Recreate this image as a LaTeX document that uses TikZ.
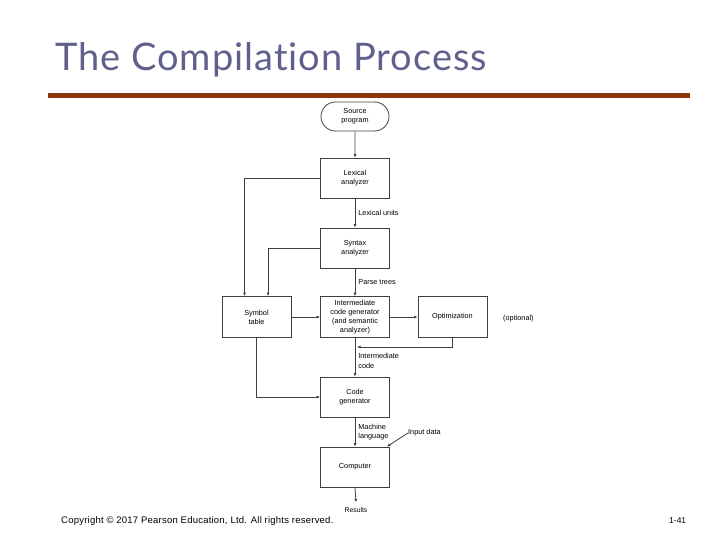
\documentclass[tikz,border=0pt]{standalone}
\usepackage{fontspec}
\setmainfont{Liberation Sans}
\newfontfamily\titlefont[LetterSpace=2.6,Ligatures=NoCommon]{Lato}
\newfontfamily\footfont[LetterSpace=2.4]{Liberation Sans}
\usetikzlibrary{shapes.misc,arrows.meta}
\definecolor{titleblue}{RGB}{96,96,140}
\definecolor{rulebrown}{RGB}{140,55,12}

\begin{document}
\begin{tikzpicture}[x=1pt,y=-1pt,
    box/.style={draw=black!75,line width=0.8pt,minimum width=69pt,minimum height=40pt,
      align=center,inner sep=1pt,font=\fontsize{7.3}{9.2}\selectfont},
    lbl/.style={anchor=west,align=left,inner sep=0pt,font=\fontsize{7.3}{9.5}\selectfont},
    flow/.style={draw=black!75,line width=0.8pt,-{Latex[length=3.5pt,width=3pt]}}]
    \useasboundingbox (0,0) rectangle (720,540);
    \node[anchor=base west,inner sep=0pt,text=titleblue,font=\titlefont\fontsize{38}{40}\selectfont] (title) at (55,71) {The Compilation Process};
    \fill[rulebrown] (48,93) rectangle (690,98);
    \node[box,rounded rectangle,minimum width=70pt,minimum height=29pt] (src) at (355,116.5) {Source\\program};
    \node[box] (lex) at (355,178) {Lexical\\analyzer};
    \node[box] (syn) at (355,248) {Syntax\\analyzer};
    \node[box,minimum height=41pt] (icg) at (355,317) {Intermediate\\code generator\\(and semantic\\analyzer)};
    \node[box,minimum height=41pt] (sym) at (256.5,317) {Symbol\\table};
    \node[box,minimum height=41pt] (opt) at (452.5,317) {Optimization};
    \node[lbl] (optn) at (503,319) {(optional)};
    \node[box] (cgen) at (355,397) {Code\\generator};
    \node[box] (comp) at (355,467) {Computer};
    \node[inner sep=0pt,font=\fontsize{6.8}{8}\selectfont] (res) at (356,510) {Results};
    \node[lbl] (inp) at (408,433) {Input data};
    \coordinate (ret) at (357,347);
    \draw[flow] (src) -- (lex);
    \draw[flow] (lex) -- node[lbl,xshift=3pt] {Lexical units} (syn);
    \draw[flow] (syn) -- node[lbl,xshift=3pt] {Parse trees} (icg);
    \draw[flow] (icg) -- node[lbl,xshift=3pt,pos=0.6] {Intermediate\\code} (cgen);
    \draw[flow] (cgen) -- node[lbl,xshift=3pt] {Machine\\language} (comp);
    \draw[flow] (comp.south) -- ([yshift=5pt]res.north);
    \draw[flow] (lex.west) -| ([xshift=-12pt]sym.north);
    \draw[flow] (syn.west) -| ([xshift=11.5pt]sym.north);
    \draw[flow] (sym) -- (icg);
    \draw[flow] (icg) -- (opt);
    \draw[flow] (opt.south) |- (ret);
    \draw[flow] (sym.south) |- (cgen.west);
    \draw[flow] (inp.west) -- ([xshift=-3pt]comp.north east);
    \node[anchor=base west,inner sep=0pt,font=\footfont\fontsize{9.5}{11}\selectfont] (copy) at (61,523) {Copyright © 2017 Pearson Education, Ltd. All rights reserved.};
    \node[anchor=base west,inner sep=0pt,font=\fontsize{8.5}{10}\selectfont] (page) at (669,523) {1-41};
\end{tikzpicture}
\end{document}
